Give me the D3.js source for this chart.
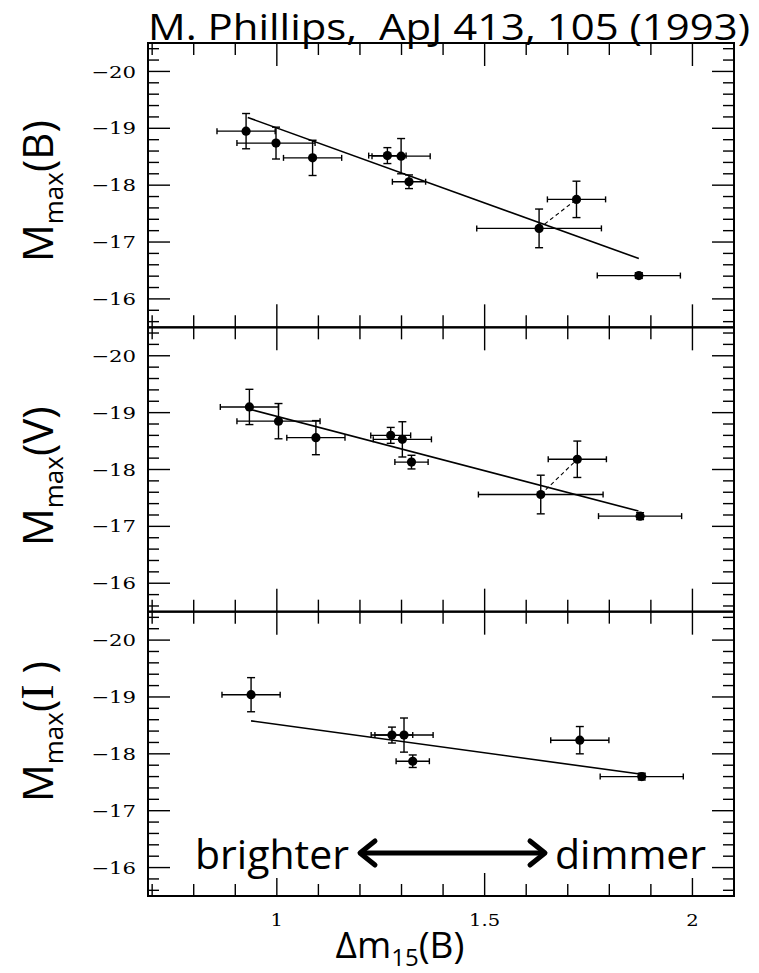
<!DOCTYPE html>
<html>
<head>
<meta charset="utf-8">
<script src="https://cdn.jsdelivr.net/npm/d3@7"></script>
<style>
  html, body { margin: 0; padding: 0; background: #fff; }
  svg { display: block; }
  text { fill: #000; }
</style>
</head>
<body>
<svg id="chart" width="759" height="973"></svg>
<script>
// ---------------- DATA ----------------
const titleText = "M. Phillips,  ApJ 413, 105 (1993)";
const xAxisValues = [1, 1.5, 2];
const xAxisLabels = ["1", "1.5", "2"];
const yAxisValues = [-20, -19, -18, -17, -16];
const yAxisLabels = ["\u221220", "\u221219", "\u221218", "\u221217", "\u221216"];
const bandNames = ["B", "V", "I"];

// Panel B
const dm15_B    = [0.926, 0.998, 1.086, 1.266, 1.299, 1.318, 1.631, 1.721, 1.871];
const dm15Err_B = [0.070, 0.094, 0.070, 0.045, 0.070, 0.040, 0.150, 0.070, 0.100];
const Mmax_B    = [-18.95, -18.74, -18.48, -18.52, -18.51, -18.06, -17.24, -17.75, -16.41];
const MmaxErr_B = [0.31, 0.28, 0.31, 0.14, 0.31, 0.12, 0.34, 0.32, 0.05];
const fitX_B = [0.930, 1.871];
const fitY_B = [-19.19, -16.71];
const pair_B = [6, 7];

// Panel V
const dm15_V    = [0.934, 1.004, 1.094, 1.274, 1.302, 1.324, 1.635, 1.723, 1.874];
const dm15Err_V = [0.070, 0.100, 0.070, 0.048, 0.070, 0.040, 0.150, 0.070, 0.100];
const Mmax_V    = [-19.10, -18.85, -18.56, -18.60, -18.53, -18.13, -17.56, -18.18, -17.18];
const MmaxErr_V = [0.31, 0.31, 0.30, 0.14, 0.31, 0.12, 0.34, 0.32, 0.06];
const fitX_V = [0.934, 1.870];
const fitY_V = [-19.06, -17.27];
const pair_V = [6, 7];

// Panel I
const dm15_I    = [0.938, 1.277, 1.306, 1.327, 1.729, 1.878];
const dm15Err_I = [0.070, 0.050, 0.070, 0.040, 0.070, 0.100];
const Mmax_I    = [-19.04, -18.33, -18.33, -17.87, -18.24, -17.60];
const MmaxErr_I = [0.30, 0.14, 0.30, 0.11, 0.24, 0.06];
const fitX_I = [0.938, 1.878];
const fitY_I = [-18.58, -17.64];
const pair_I = null;

const arrowLeftText = "brighter";
const arrowRightText = "dimmer";

// ---------------- LAYOUT ----------------
const svg = d3.select("#chart");
const plotLeft = 148, plotRight = 734, plotTop = 43, plotBottom = 896;
const panelH = (plotBottom - plotTop) / 3;

const x = d3.scaleLinear().domain([0.69, 2.1]).range([plotLeft, plotRight]);

const panels = [
  {band: bandNames[0], dm: dm15_B, dmErr: dm15Err_B, M: Mmax_B, MErr: MmaxErr_B, fx: fitX_B, fy: fitY_B, pair: pair_B},
  {band: bandNames[1], dm: dm15_V, dmErr: dm15Err_V, M: Mmax_V, MErr: MmaxErr_V, fx: fitX_V, fy: fitY_V, pair: pair_V},
  {band: bandNames[2], dm: dm15_I, dmErr: dm15Err_I, M: Mmax_I, MErr: MmaxErr_I, fx: fitX_I, fy: fitY_I, pair: pair_I}
];

const labelStarts = [262, 546, 802];

const xMinor = d3.range(7, 21).map(d => d / 10);
const yMinor = d3.range(-102, -77).map(d => d / 5).filter(v => v > -20.5 && v < -15.5);

panels.forEach((p, i) => {
  const y0 = plotTop + i * panelH;
  const y = d3.scaleLinear().domain([-20.5, -15.5]).range([y0, y0 + panelH]);
  const g = svg.append("g");

  // ticks
  const tk = g.append("g").attr("stroke", "#000").attr("stroke-width", 1.4);
  xMinor.forEach(v => {
    const major = xAxisValues.some(m => Math.abs(m - v) < 1e-6);
    const len = major ? 23 : 12;
    tk.append("line").attr("x1", x(v)).attr("x2", x(v)).attr("y1", y0).attr("y2", y0 + len);
    tk.append("line").attr("x1", x(v)).attr("x2", x(v)).attr("y1", y0 + panelH).attr("y2", y0 + panelH - len);
  });
  yMinor.forEach(v => {
    const major = yAxisValues.some(m => Math.abs(m - v) < 1e-6);
    const len = major ? 22 : 11;
    tk.append("line").attr("x1", plotLeft).attr("x2", plotLeft + len).attr("y1", y(v)).attr("y2", y(v));
    tk.append("line").attr("x1", plotRight).attr("x2", plotRight - len).attr("y1", y(v)).attr("y2", y(v));
  });

  // frame
  g.append("rect").attr("x", plotLeft).attr("y", y0).attr("width", plotRight - plotLeft).attr("height", panelH)
    .attr("fill", "none").attr("stroke", "#000").attr("stroke-width", 2);

  // y tick labels
  yAxisValues.forEach((v, k) => {
    g.append("text")
      .attr("transform", `translate(136,${y(v)}) scale(1.25,1)`)
      .attr("text-anchor", "end").attr("dy", "0.36em")
      .attr("font-family", "DejaVu Serif").attr("font-size", 17)
      .text(yAxisLabels[k]);
  });

  // fit line
  g.append("line")
    .attr("x1", x(p.fx[0])).attr("y1", y(p.fy[0]))
    .attr("x2", x(p.fx[1])).attr("y2", y(p.fy[1]))
    .attr("stroke", "#000").attr("stroke-width", 1.6);

  // dashed pair link
  if (p.pair) {
    g.append("line")
      .attr("x1", x(p.dm[p.pair[0]])).attr("y1", y(p.M[p.pair[0]]))
      .attr("x2", x(p.dm[p.pair[1]])).attr("y2", y(p.M[p.pair[1]]))
      .attr("stroke", "#000").attr("stroke-width", 1.1).attr("stroke-dasharray", "4,3");
  }

  // error bars & points
  const eb = g.append("g").attr("stroke", "#000").attr("stroke-width", 1.4);
  p.dm.forEach((dv, k) => {
    const cx = x(dv), cy = y(p.M[k]);
    const xl = x(dv - p.dmErr[k]), xr = x(dv + p.dmErr[k]);
    const yt = y(p.M[k] - p.MErr[k]), yb = y(p.M[k] + p.MErr[k]);
    eb.append("line").attr("x1", xl).attr("x2", xr).attr("y1", cy).attr("y2", cy);
    eb.append("line").attr("x1", xl).attr("x2", xl).attr("y1", cy - 3).attr("y2", cy + 3);
    eb.append("line").attr("x1", xr).attr("x2", xr).attr("y1", cy - 3).attr("y2", cy + 3);
    eb.append("line").attr("x1", cx).attr("x2", cx).attr("y1", yt).attr("y2", yb);
    eb.append("line").attr("x1", cx - 4).attr("x2", cx + 4).attr("y1", yt).attr("y2", yt);
    eb.append("line").attr("x1", cx - 4).attr("x2", cx + 4).attr("y1", yb).attr("y2", yb);
    g.append("circle").attr("cx", cx).attr("cy", cy).attr("r", 4.6).attr("fill", "#000");
  });

  // rotated y label
  const lab = svg.append("text")
    .attr("transform", `translate(53,${labelStarts[i]}) rotate(-90)`)
    .attr("font-family", "Open Sans").attr("font-size", 42)
    .style("white-space", "pre");
  lab.append("tspan").text("M");
  lab.append("tspan").attr("font-size", 26).attr("dy", 10).text("max");
  if (p.band === "I") {
    lab.append("tspan").attr("dy", -10).text("(");
    lab.append("tspan").attr("font-family", "Liberation Serif").attr("font-size", 46).text("I");
    lab.append("tspan").text(" )");
  } else {
    lab.append("tspan").attr("dy", -10).text("(" + p.band + ")");
  }
});

// x tick labels
xAxisValues.forEach((v, k) => {
  svg.append("text")
    .attr("transform", `translate(${x(v)},920) scale(1.15,1)`)
    .attr("text-anchor", "middle").attr("dy", "0.36em")
    .attr("font-family", "DejaVu Serif").attr("font-size", 17)
    .text(xAxisLabels[k]);
});

// x axis title
const xt = svg.append("text").attr("x", 400).attr("y", 958).attr("text-anchor", "middle")
  .attr("font-family", "Open Sans").attr("font-size", 37);
xt.append("tspan").text("\u0394m");
xt.append("tspan").attr("font-size", 24).attr("dy", 8).text("15");
xt.append("tspan").attr("dy", -8).text("(B)");

// title
svg.append("text").attr("x", 148).attr("y", 39.5)
  .attr("font-family", "Open Sans").attr("font-size", 37)
  .attr("textLength", 602).attr("lengthAdjust", "spacingAndGlyphs")
  .style("white-space", "pre")
  .text(titleText);

// brighter <-> dimmer annotation
svg.append("rect").attr("x", 190).attr("y", 826).attr("width", 160).attr("height", 52).attr("fill", "#fff");
svg.append("rect").attr("x", 550).attr("y", 826).attr("width", 158).attr("height", 52).attr("fill", "#fff");
svg.append("text").attr("x", 195).attr("y", 869).attr("font-family", "Open Sans").attr("font-size", 41).text(arrowLeftText);
svg.append("text").attr("x", 555).attr("y", 869).attr("font-family", "Open Sans").attr("font-size", 41).text(arrowRightText);
const ar = svg.append("g").attr("stroke", "#000").attr("stroke-width", 5).attr("fill", "none")
  .attr("stroke-linecap", "round").attr("stroke-linejoin", "round");
ar.append("line").attr("x1", 362).attr("x2", 543).attr("y1", 853).attr("y2", 853);
ar.append("polyline").attr("points", "375,841 360,853 375,865");
ar.append("polyline").attr("points", "530,841 545,853 530,865");
</script>
</body>
</html>
